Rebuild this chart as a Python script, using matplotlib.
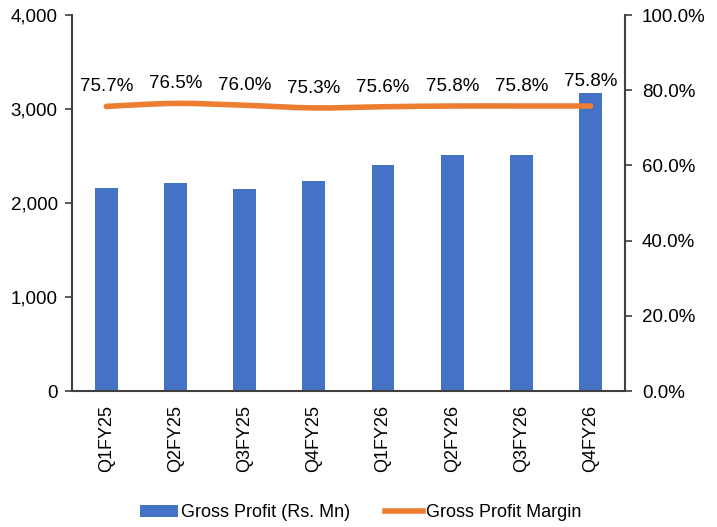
import numpy as np
import matplotlib
matplotlib.use("Agg")
import matplotlib.pyplot as plt
from matplotlib.path import Path
from matplotlib.patches import PathPatch
from matplotlib.ticker import FuncFormatter

plt.rcParams['font.family'] = ['Liberation Sans', 'DejaVu Sans']

quarters = ["Q1FY25", "Q2FY25", "Q3FY25", "Q4FY25", "Q1FY26", "Q2FY26", "Q3FY26", "Q4FY26"]
gross_profit = [2163, 2216, 2149, 2234, 2401, 2507, 2507, 3174]
gp_margin = [75.7, 76.5, 76.0, 75.3, 75.6, 75.8, 75.8, 75.8]

blue = "#4472C4"
orange = "#ED7D31"
axis_col = "#404040"


def smooth_path(xs, ys, t=1 / 6):
    # excel style smooth line, bezier through every point
    verts = [(xs[0], ys[0])]
    codes = [Path.MOVETO]
    n = len(xs)
    for i in range(n - 1):
        x0, y0 = (xs[i - 1], ys[i - 1]) if i > 0 else (xs[i], ys[i])
        x3, y3 = (xs[i + 2], ys[i + 2]) if i + 2 < n else (xs[i + 1], ys[i + 1])
        c1 = (xs[i] + (xs[i + 1] - x0) * t, ys[i] + (ys[i + 1] - y0) * t)
        c2 = (xs[i + 1] - (x3 - xs[i]) * t, ys[i + 1] - (y3 - ys[i]) * t)
        verts += [c1, c2, (xs[i + 1], ys[i + 1])]
        codes += [Path.CURVE4] * 3
    return Path(verts, codes)


fig = plt.figure(figsize=(7.17, 5.27), dpi=100)
ax_rect = [0.100, 0.258, 0.772, 0.7135]
ax = fig.add_axes(ax_rect)
ax2 = ax.twinx()

x = np.arange(len(quarters))
ax.bar(x, gross_profit, width=0.33, color=blue, label="Gross Profit (Rs. Mn)", zorder=2)
ax.set_xlim(-0.5, len(quarters) - 0.5)
ax.set_ylim(0, 4000)
ax.set_yticks(np.arange(0, 4001, 1000))
ax.yaxis.set_major_formatter(FuncFormatter(lambda v, p: f"{v:,.0f}"))
ax.set_xticks(x)
ax.set_xticklabels(quarters, rotation=90)

ax2.set_ylim(0, 100)
ax2.set_yticks(np.arange(0, 101, 20))
ax2.yaxis.set_major_formatter(FuncFormatter(lambda v, p: f"{v:.1f}%"))

patch = PathPatch(smooth_path(list(x), gp_margin), facecolor="none", edgecolor=orange,
                  lw=4, capstyle="round", joinstyle="round", transform=ax2.transData, zorder=3)
ax2.add_patch(patch)
line_handle, = ax2.plot([], [], color=orange, lw=4, label="Gross Profit Margin")

# labels sit above the line, or above the bar if the bar is taller
ax_h_pt = ax_rect[3] * 5.27 * 72
for xi, m, g in zip(x, gp_margin, gross_profit):
    off = max(m / 100 * ax_h_pt + 8, g / 4000 * ax_h_pt + 2)
    ax2.annotate(f"{m:.1f}%", (xi, 0), xytext=(0, off), textcoords="offset points",
                 ha="center", va="bottom", fontsize=13.5, color="black")

for a in (ax, ax2):
    a.spines['top'].set_visible(False)
    for s in ('left', 'right', 'bottom'):
        a.spines[s].set_color(axis_col)
        a.spines[s].set_linewidth(1.5)
    a.tick_params(axis='y', labelsize=13.5, length=5, width=1.2, color=axis_col)
ax.tick_params(axis='y', pad=5)
ax2.tick_params(axis='y', pad=7)
ax.spines['right'].set_visible(False)
ax2.spines['left'].set_visible(False)
ax2.spines['bottom'].set_visible(False)
ax.tick_params(axis='x', length=0, labelsize=13, pad=10)

handles = [ax.patches[0], line_handle]
fig.legend(handles, ["Gross Profit (Rs. Mn)", "Gross Profit Margin"], loc="center",
           bbox_to_anchor=(0.503, 0.027), ncol=2, frameon=False, fontsize=13,
           handlelength=2.1, columnspacing=1.9, handletextpad=0.2)

fig.savefig("out.png", dpi=100)
